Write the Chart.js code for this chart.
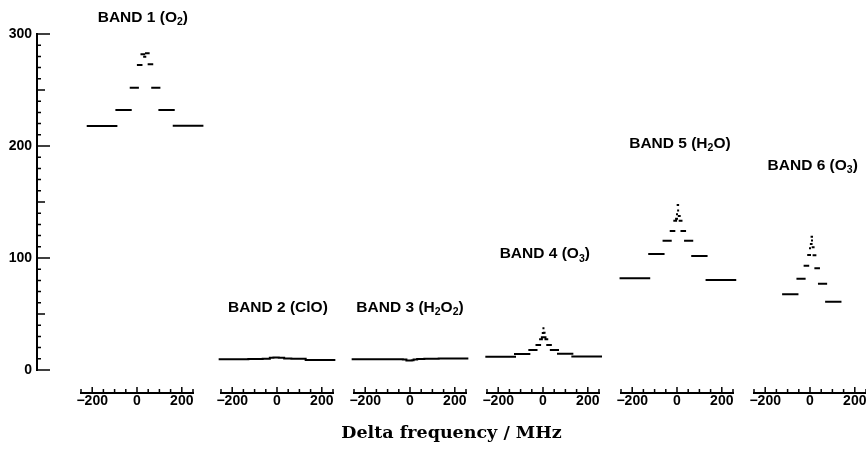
<!DOCTYPE html>
<html lang="en">
<head>
  <meta charset="UTF-8">
  <title>Filter bank spectra</title>
  <script src="https://cdn.jsdelivr.net/npm/chart.js"></script>
  <style>
    html, body { margin: 0; padding: 0; background: #fff; overflow: hidden; }
    #wrap { position: relative; width: 866px; height: 449px; overflow: hidden; }
    #wrap canvas { position: absolute; top: 0; }
  </style>
</head>
<body>
  <div id="wrap">
    <canvas id="axisChart" width="866" height="449" style="left:0"></canvas>
  </div>

  <script>
    // filter channel edges, MHz from the line centre (same bank for every band)
    const channelLo = [-256, -128, -64, -32, -16, -8, -4, -1, 1, 4, 8, 16, 32, 64, 128];
    const channelHi = [-128, -64, -32, -16, -8, -4, -1, 1, 4, 8, 16, 32, 64, 128, 256];

    const bandNames = ['BAND 1 (O₂)', 'BAND 2 (ClO)', 'BAND 3 (H₂O₂)', 'BAND 4 (O₃)', 'BAND 5 (H₂O)', 'BAND 6 (O₃)'];
    const bandOffset = [36, 0, 0, 3, 4, 8]; // line centre relative to band centre, MHz

    // brightness per channel
    const band1 = [217.6, 231.9, 251.9, 272.2, 281.8, 281.8, 279.7, 279.7, 279.7, 282.7, 282.7, 272.8, 251.9, 231.9, 217.8];
    const band2 = [8.7, 9.0, 9.1, 10.1, 10.2, 10.3, 10.4, 10.4, 10.3, 10.2, 10.1, 10.0, 9.3, 9.1, 8.0];
    const band3 = [8.7, 8.8, 8.8, 8.6, 7.6, 7.5, 7.5, 7.5, 7.5, 7.6, 7.8, 8.6, 9.0, 9.1, 9.3];
    const band4 = [11.0, 13.4, 17.0, 21.5, 26.6, 28.5, 32.3, 36.4, 32.5, 28.5, 26.6, 21.5, 17.0, 13.6, 11.2];
    const band5 = [81.2, 103.0, 114.9, 123.6, 132.8, 134.5, 138.5, 146.9, 142.0, 137.0, 132.8, 123.6, 114.9, 101.2, 79.7];
    const band6 = [null, 66.9, 80.9, 92.5, 102.1, 108.1, 112.0, 118.5, 115.0, 109.0, 101.8, 90.2, 76.4, 60.3, null];
    const bandTemps = [band1, band2, band3, band4, band5, band6];

    const yTickLabels = [0, 100, 200, 300];
    const xTickLabels = [-200, 0, 200];
    const xTickMarks = [-250, -200, -150, -100, -50, 0, 50, 100, 150, 200, 250];
    const yMinorStep = 10;

    // layout
    const panelZero = [137, 277, 410, 543, 677, 810]; // pixel of 0 MHz in each panel
    const titleLevel = [316, 56, 56, 104, 203, 183];   // title height on the y scale
    const titleShift = [26, 4, 0, 8, 13, 12];          // title centre, MHz

    const tickFont = { family: '"Liberation Sans", Arial, sans-serif', size: 14, weight: 'bold' };

    // tick marks pointing into the plot
    const inwardTicks = {
      id: 'inwardTicks',
      afterDraw(chart, args, opts) {
        const ctx = chart.ctx;
        ctx.save();
        ctx.strokeStyle = '#000';
        ctx.lineWidth = 1.5;
        ctx.beginPath();
        if (opts.axis === 'x') {
          const s = chart.scales.x;
          xTickMarks.forEach(v => {
            const px = s.getPixelForValue(v);
            const len = xTickLabels.includes(v) ? 6 : 4;
            ctx.moveTo(px, s.top);
            ctx.lineTo(px, s.top - len);
          });
        } else {
          const s = chart.scales.y;
          for (let v = s.min; v <= s.max; v += yMinorStep) {
            const py = s.getPixelForValue(v);
            const len = v % 100 === 0 ? 13 : (v % 50 === 0 ? 8 : 4);
            ctx.moveTo(s.right, py);
            ctx.lineTo(s.right + len, py);
          }
        }
        ctx.stroke();
        ctx.restore();
      }
    };

    // band label with real subscripts
    const bandTitle = {
      id: 'bandTitle',
      afterDraw(chart, args, opts) {
        const ctx = chart.ctx;
        const size = 15.5;
        const main = `bold ${size}px "Liberation Sans", Arial, sans-serif`;
        const sub = `bold ${(size * 0.68).toFixed(1)}px "Liberation Sans", Arial, sans-serif`;
        const parts = [...opts.text].map(ch => {
          const c = ch.codePointAt(0);
          return (c >= 0x2080 && c <= 0x2089) ? { t: String(c - 0x2080), sub: true } : { t: ch, sub: false };
        });
        ctx.save();
        let w = 0;
        parts.forEach(p => { ctx.font = p.sub ? sub : main; p.w = ctx.measureText(p.t).width; w += p.w; });
        let cx = chart.scales.x.getPixelForValue(opts.shift) - w / 2;
        const base = chart.scales.y.getPixelForValue(opts.level) + size * 0.36;
        ctx.fillStyle = '#000';
        ctx.textAlign = 'left';
        ctx.textBaseline = 'alphabetic';
        parts.forEach(p => {
          ctx.font = p.sub ? sub : main;
          ctx.fillText(p.t, cx, base + (p.sub ? size * 0.2 : 0));
          cx += p.w;
        });
        ctx.restore();
      }
    };

    // shared y axis + overall x title
    new Chart(document.getElementById('axisChart'), {
      type: 'line',
      data: { datasets: [] },
      options: {
        responsive: false,
        animation: false,
        layout: { padding: { top: 34, left: 0, right: 0, bottom: 0 } },
        plugins: { legend: { display: false }, tooltip: { enabled: false }, inwardTicks: { axis: 'y' } },
        scales: {
          x: {
            type: 'linear', min: 0, max: 1,
            grid: { display: false }, border: { display: false }, ticks: { display: false },
            title: {
              display: true, text: 'Delta frequency / MHz', color: '#000',
              font: { family: '"DejaVu Serif", serif', size: 17.5, weight: 'bold' },
              padding: { top: 0, bottom: 5 }
            },
            afterFit: s => { s.height = 79; }
          },
          y: {
            min: 0, max: 300,
            grid: { display: false, drawTicks: false },
            border: { display: true, color: '#000', width: 2 },
            afterBuildTicks: s => { s.ticks = yTickLabels.map(v => ({ value: v })); },
            ticks: { color: '#000', padding: 5, font: tickFont },
            afterFit: s => { s.width = 37; }
          }
        }
      },
      plugins: [inwardTicks]
    });

    const wrap = document.getElementById('wrap');
    const fmt = v => v < 0 ? '−' + Math.abs(v) : String(v);

    bandNames.forEach((name, k) => {
      const cv = document.createElement('canvas');
      cv.width = 136;
      cv.height = 449;
      cv.style.left = (panelZero[k] - 68) + 'px';
      wrap.appendChild(cv);

      const pts = [];
      channelLo.forEach((lo, i) => {
        const t = bandTemps[k][i];
        if (t === null) return;
        const hi = channelHi[i] + bandOffset[k];
        pts.push({ x: lo + bandOffset[k], y: t }, { x: hi, y: t }, { x: hi, y: null });
      });

      new Chart(cv, {
        type: 'line',
        data: {
          datasets: [{
            data: pts,
            borderColor: '#000',
            borderWidth: 2,
            borderCapStyle: 'square',
            pointRadius: 0,
            spanGaps: false,
            tension: 0,
            clip: false
          }]
        },
        options: {
          responsive: false,
          animation: false,
          events: [],
          layout: { padding: { top: 34, left: 12, right: 12, bottom: 0 } },
          plugins: {
            legend: { display: false },
            tooltip: { enabled: false },
            inwardTicks: { axis: 'x' },
            bandTitle: { text: name, level: titleLevel[k], shift: titleShift[k] }
          },
          scales: {
            x: {
              type: 'linear', min: -250, max: 250,
              grid: { display: false, drawTicks: false },
              border: { display: true, color: '#000', width: 2 },
              afterBuildTicks: s => { s.ticks = xTickMarks.map(v => ({ value: v })); },
              ticks: {
                autoSkip: false, maxRotation: 0, padding: 0, color: '#000', font: tickFont,
                callback: v => xTickLabels.includes(v) ? fmt(v) : ''
              },
              afterFit: s => { s.height = 56; }
            },
            y: { display: false, min: -21.5, max: 300 }
          }
        },
        plugins: [inwardTicks, bandTitle]
      });
    });
  </script>
</body>
</html>
